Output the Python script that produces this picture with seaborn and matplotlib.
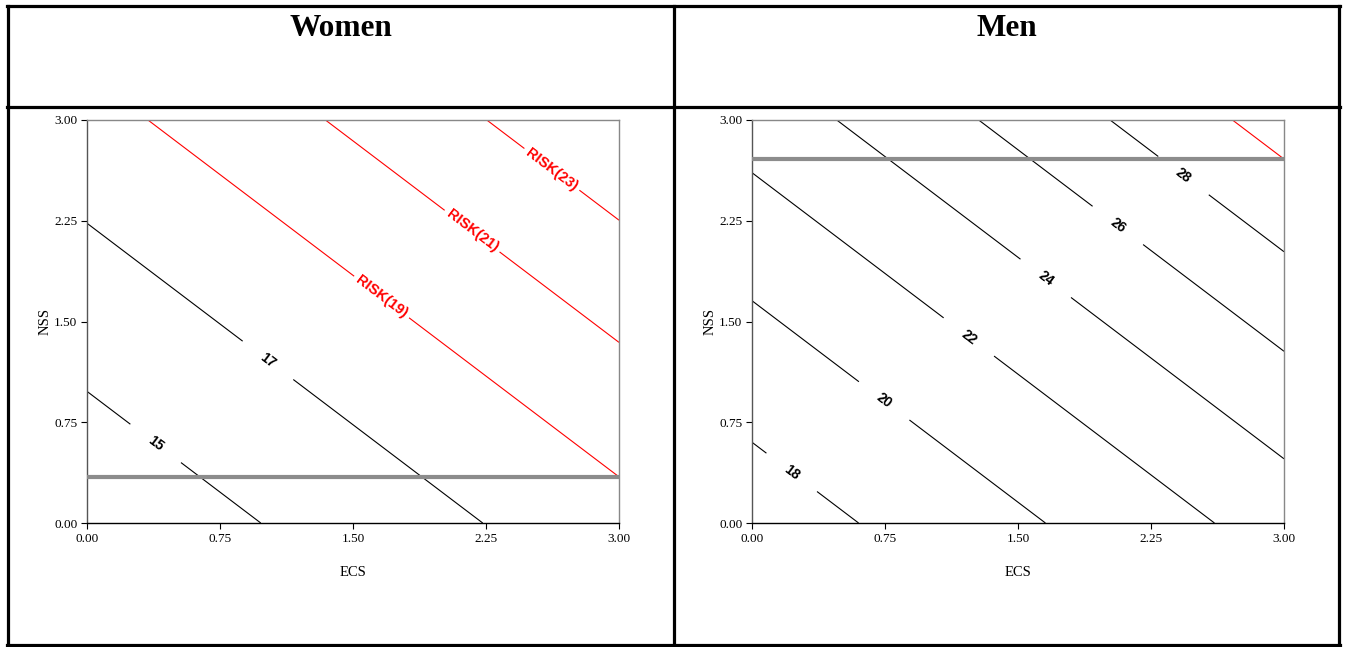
import numpy as np
import matplotlib
matplotlib.use("Agg")
import matplotlib.pyplot as plt
from matplotlib.lines import Line2D
import seaborn as sns

# Log-linear risk model per sex: RISK = base * exp(b_ecs * ECS + b_nss * NSS)
panel_titles = ["Women", "Men"]
base_risk = [13.6, 16.95]
ecs_coef = [0.1, 0.1]
nss_coef = [0.1, 0.1]
black_levels = [[15, 17], [18, 20, 22, 24, 26, 28]]
red_levels = [[19, 21, 23], [30]]
red_labelled = [True, False]
nss_reference = [0.34, 2.71]
axis_ticks = [0.00, 0.75, 1.50, 2.25, 3.00]
tick_labels = ["0.00", "0.75", "1.50", "2.25", "3.00"]

# where the contour labels sit (ECS, NSS)
black_label_pos = [
    [(0.38, 0.58), (1.02, 1.21)],
    [(0.22, 0.37), (0.74, 0.90), (1.22, 1.38), (1.65, 1.81), (2.06, 2.21), (2.43, 2.58)],
]
red_label_pos = [[(1.66, 1.68), (2.17, 2.17), (2.62, 2.63)], []]

sns.set_style("ticks")
plt.rcParams["font.family"] = ["Liberation Serif", "DejaVu Serif"]
plt.rcParams["text.color"] = "black"
plt.rcParams["axes.labelcolor"] = "black"

W, H = 1347, 647
fig = plt.figure(figsize=(W / 100, H / 100), dpi=100)


def fx(x):
    return x / W


def fy(y):
    return 1 - y / H


# table frame
frame_lw = 2.3
for (x0, y0, x1, y1) in [(7, 6, 1340, 6), (7, 645, 1340, 645), (8, 6, 8, 645),
                         (1339, 6, 1339, 645), (674, 6, 674, 645), (7, 107, 1340, 107)]:
    fig.add_artist(Line2D([fx(x0), fx(x1)], [fy(y0), fy(y1)], color="black",
                          lw=frame_lw, solid_capstyle="projecting"))

col_centers = [341, 1007]
axes_left = [87, 752]
ax_w, ax_top, ax_bot = 532, 120, 523

grid = np.linspace(0, 3, 301)
E, N = np.meshgrid(grid, grid)

for i in range(2):
    fig.text(fx(col_centers[i]), fy(28), panel_titles[i], ha="center", va="center",
             fontsize=22.5, fontweight="bold", color="black")

    ax = fig.add_axes([fx(axes_left[i]), fy(ax_bot), ax_w / W, (ax_bot - ax_top) / H])
    risk = base_risk[i] * np.exp(ecs_coef[i] * E + nss_coef[i] * N)

    cs_black = ax.contour(E, N, risk, levels=black_levels[i], colors="black", linewidths=0.8)
    cs_red = ax.contour(E, N, risk, levels=red_levels[i], colors="red", linewidths=0.8)

    with plt.rc_context({"font.family": ["Liberation Sans"], "font.weight": "bold"}):
        lab = ax.clabel(cs_black, fmt={lv: str(lv) for lv in black_levels[i]},
                        manual=black_label_pos[i], inline=True, inline_spacing=24,
                        fontsize=10)
        for t in lab:
            t.set_fontweight("heavy")
            t.set_fontfamily("Liberation Sans")
        if red_labelled[i]:
            lab = ax.clabel(cs_red, fmt={lv: f"RISK({lv})" for lv in red_levels[i]},
                            manual=red_label_pos[i], inline=True, inline_spacing=4,
                            fontsize=10.5)
            for t in lab:
                t.set_fontweight("heavy")
                t.set_fontfamily("Liberation Sans")

    ax.axhline(nss_reference[i], color="#8c8c8c", lw=3, zorder=4)

    ax.set_xlim(0, 3)
    ax.set_ylim(0, 3)
    ax.set_xticks(axis_ticks)
    ax.set_yticks(axis_ticks)
    ax.set_xticklabels(tick_labels)
    ax.set_yticklabels(tick_labels)
    ax.tick_params(axis="both", direction="out", length=4, width=0.8, labelsize=9.5,
                   pad=3, colors="black")
    ax.set_xlabel("ECS", fontsize=10.5, labelpad=15)
    ax.set_ylabel("NSS", fontsize=10.5, labelpad=2)
    ax.spines["left"].set_color("#555555")
    ax.spines["bottom"].set_color("black")
    ax.spines["top"].set_color("#888888")
    ax.spines["right"].set_color("#888888")
    for sp in ax.spines.values():
        sp.set_linewidth(1.0)
        sp.set_visible(True)
    ax.grid(False)

fig.savefig("out.png", dpi=100, facecolor="white")
